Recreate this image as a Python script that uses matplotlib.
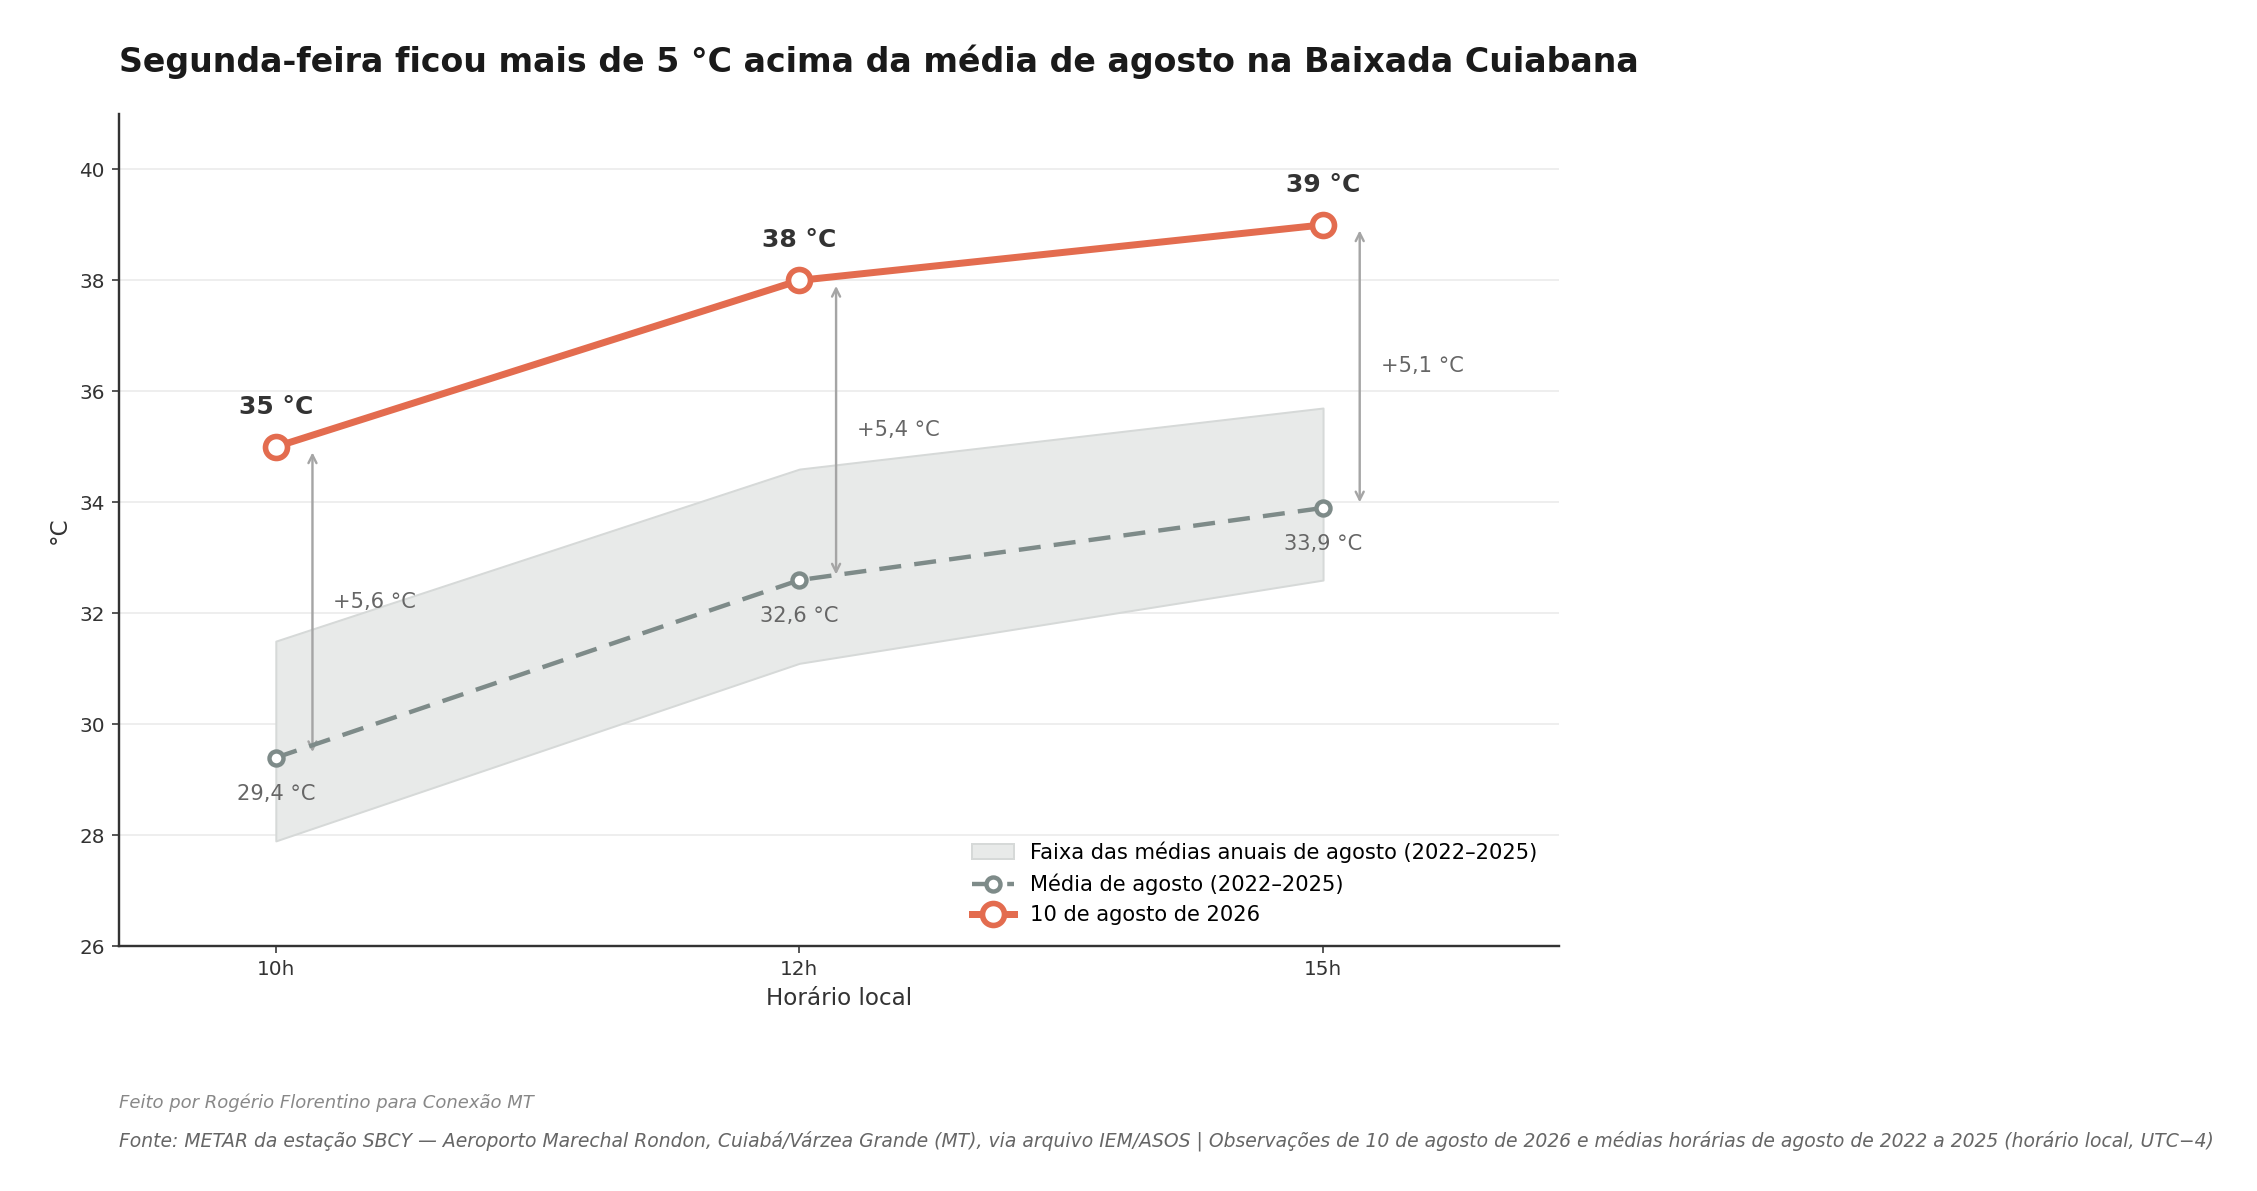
import matplotlib
matplotlib.use("Agg")
import matplotlib.pyplot as plt
import numpy as np

horas = ["10h", "12h", "15h"]
hoje = [35.0, 38.0, 39.0]
media = [29.4, 32.6, 33.9]
faixa_min = [27.9, 31.1, 32.6]
faixa_max = [31.5, 34.6, 35.7]
diferencas = ["+5,6 °C", "+5,4 °C", "+5,1 °C"]

plt.rcParams['font.family'] = ['DejaVu Sans']

W, H, DPI = 2257, 1191, 144
fig = plt.figure(figsize=(W / DPI, H / DPI), dpi=DPI)
ax = fig.add_axes([0.0526, 0.2054, 0.638, 0.699])

x = np.arange(len(horas))
c_hoje = "#E36C4F"
c_media = "#7E8B89"

ax.fill_between(x, faixa_min, faixa_max, color="#E8EAE9", edgecolor="#D6D9D8",
                linewidth=1.0, zorder=1, label="Faixa das médias anuais de agosto (2022–2025)")
ax.plot(x, media, color=c_media, lw=2.2, ls=(0, (5, 3)), marker="o", ms=7,
        mfc="white", mec=c_media, mew=2.2, zorder=4, label="Média de agosto (2022–2025)")
ax.plot(x, hoje, color=c_hoje, lw=3.5, marker="o", ms=11, mfc="white",
        mec=c_hoje, mew=2.8, zorder=5, label="10 de agosto de 2026")

for i in range(len(horas)):
    ax.annotate("", xy=(x[i] + 0.07, hoje[i] - 0.1), xytext=(x[i] + 0.07, media[i] + 0.1),
                arrowprops=dict(arrowstyle="<->", color="#A5A5A5", lw=1.2,
                                shrinkA=0, shrinkB=0), zorder=3)
    ax.text(x[i] + 0.11, (hoje[i] + media[i]) / 2, diferencas[i], fontsize=10.5,
            color="#666666", ha="left", va="center")
    ax.annotate(f"{hoje[i]:.0f} °C", (x[i], hoje[i]), xytext=(0, 14),
                textcoords="offset points", ha="center", va="bottom",
                fontsize=12.5, fontweight="bold", color="#333333")
    ax.annotate(f"{media[i]:.1f} °C".replace(".", ","), (x[i], media[i]), xytext=(0, -13),
                textcoords="offset points", ha="center", va="top",
                fontsize=10.5, color="#666666")

ax.set_xlim(-0.3, 2.45)
ax.set_ylim(26, 41)
ax.set_yticks(np.arange(26, 41, 2))
ax.set_xticks(x)
ax.set_xticklabels(horas)
ax.tick_params(labelsize=10, colors="#333333")
ax.grid(axis="y", color="#EBEBEB", lw=0.8)
ax.set_axisbelow(True)
for s in ["top", "right"]:
    ax.spines[s].set_visible(False)
for s in ["left", "bottom"]:
    ax.spines[s].set_color("#333333")
    ax.spines[s].set_linewidth(1.2)
ax.set_xlabel("Horário local", fontsize=11.5, color="#333333")
ax.set_ylabel("°C", fontsize=11.5, color="#333333")

ax.legend(loc="lower right", frameon=False, fontsize=10.5, borderaxespad=0.6,
          handlelength=2.0)

fig.text(0.0526, 0.948, "Segunda-feira ficou mais de 5 °C acima da média de agosto na Baixada Cuiabana",
         fontsize=16.6, fontweight="bold", color="#1A1A1A", ha="left", va="center")
fig.text(0.0526, 0.074, "Feito por Rogério Florentino para Conexão MT", fontsize=9,
         style="italic", color="#888888", ha="left", va="center")
fig.text(0.0526, 0.042,
         "Fonte: METAR da estação SBCY — Aeroporto Marechal Rondon, Cuiabá/Várzea Grande (MT), via arquivo IEM/ASOS | Observações de 10 de agosto de 2026 e médias horárias de agosto de 2022 a 2025 (horário local, UTC−4)",
         fontsize=9.4, style="italic", color="#666666", ha="left", va="center")

fig.savefig("out.png", dpi=DPI)
